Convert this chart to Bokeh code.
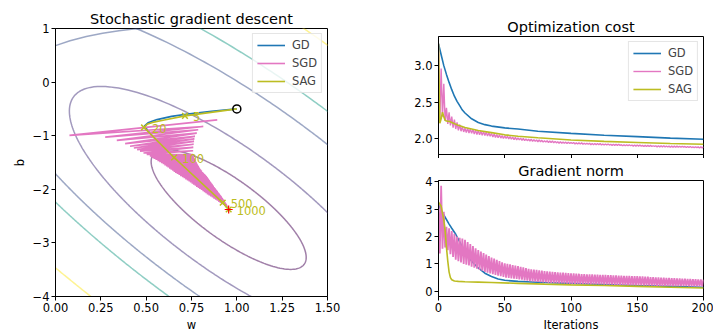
import numpy as np
from bokeh.plotting import figure
from bokeh.layouts import row, column
from bokeh.models import Range1d, FixedTicker, NumeralTickFormatter, CustomJSTickFormatter, ColumnDataSource
from bokeh.embed import file_html
from bokeh.resources import INLINE
from bokeh.core.properties import value

FONT = "DejaVu Sans"
C_GD = "#1f77b4"
C_SGD = "#e377c2"
C_SAG = "#bcbd22"

# ---------------- left panel data ----------------
cost_min_w = 0.955
cost_min_b = -2.377
hess_ww, hess_wb, hess_bb = 6.83, 2.09, 1.0
contour_levels = [0.45, 1.9, 5.0, 7.45, 14.9]
contour_shift_w = [0.0, 0.0, 0.05, 0.07, 0.08]
contour_shift_b = [0.0, 0.0, 0.15, 0.20, 0.25]
contour_colors = ["#440154", "#46337e", "#3b528b", "#1f9e89", "#fde725"]
# contour piece visible in the top-left corner
arc_w = [0.0, 0.08, 0.17, 0.26, 0.35, 0.43, 0.48]
arc_b = [0.68, 0.77, 0.85, 0.91, 0.96, 0.99, 1.0]

gd_path_w = [1.0, 0.86, 0.74, 0.64, 0.56, 0.51, 0.49, 0.52, 0.57, 0.62]
gd_path_b = [-0.5, -0.545, -0.59, -0.64, -0.70, -0.76, -0.82, -0.95, -1.13, -1.29]

# SGD zig-zag: right end and left end of each sweep
sgd_left_w = [0.077, 0.274, 0.338, 0.384, 0.411, 0.432, 0.450, 0.466, 0.485, 0.503,
              0.520, 0.530, 0.540, 0.551, 0.562, 0.572, 0.582, 0.591, 0.600, 0.609,
              0.617, 0.626, 0.634, 0.643, 0.651, 0.659, 0.668, 0.678, 0.687, 0.697,
              0.706, 0.715, 0.724, 0.733, 0.741, 0.750, 0.758, 0.767, 0.775, 0.784,
              0.792, 0.801, 0.810, 0.818, 0.826, 0.834, 0.843, 0.852, 0.861, 0.870,
              0.879, 0.888, 0.897, 0.905, 0.913, 0.922, 0.930, 0.938, 0.945, 0.951]
sgd_left_b = [-0.994, -1.026, -1.087, -1.148, -1.198, -1.230, -1.259, -1.288, -1.322, -1.352,
              -1.38, -1.40, -1.42, -1.44, -1.46, -1.48, -1.50, -1.52, -1.54, -1.56,
              -1.58, -1.60, -1.62, -1.64, -1.66, -1.68, -1.70, -1.72, -1.74, -1.76,
              -1.78, -1.80, -1.82, -1.84, -1.86, -1.88, -1.90, -1.92, -1.94, -1.96,
              -1.98, -2.00, -2.02, -2.04, -2.06, -2.08, -2.10, -2.12, -2.14, -2.16,
              -2.18, -2.20, -2.22, -2.24, -2.26, -2.28, -2.30, -2.32, -2.34, -2.36]
sgd_right_w = [0.892, 0.815, 0.787, 0.779, 0.769, 0.766, 0.764, 0.762, 0.760, 0.759,
               0.758, 0.760, 0.762, 0.764, 0.767, 0.770, 0.773, 0.776, 0.779, 0.782,
               0.785, 0.789, 0.792, 0.795, 0.799, 0.804, 0.809, 0.815, 0.820, 0.826,
               0.831, 0.836, 0.840, 0.844, 0.848, 0.852, 0.856, 0.860, 0.865, 0.869,
               0.874, 0.878, 0.883, 0.887, 0.892, 0.896, 0.900, 0.905, 0.909, 0.914,
               0.918, 0.922, 0.926, 0.930, 0.934, 0.938, 0.942, 0.945, 0.948, 0.951]
sgd_right_b = [-0.704, -0.828, -0.889, -0.952, -1.013, -1.060, -1.106, -1.160, -1.217, -1.280,
               -1.35, -1.37, -1.39, -1.41, -1.43, -1.45, -1.47, -1.49, -1.51, -1.53,
               -1.55, -1.57, -1.59, -1.61, -1.63, -1.65, -1.67, -1.69, -1.71, -1.73,
               -1.75, -1.77, -1.79, -1.81, -1.83, -1.85, -1.87, -1.89, -1.91, -1.93,
               -1.95, -1.97, -1.99, -2.01, -2.03, -2.05, -2.07, -2.09, -2.11, -2.13,
               -2.15, -2.17, -2.19, -2.21, -2.23, -2.25, -2.27, -2.29, -2.31, -2.33]

sag_path_w = [1.0, 0.714, 0.60, 0.535, 0.505, 0.488, 0.654, 0.922, 0.955]
sag_path_b = [-0.5, -0.63, -0.707, -0.752, -0.785, -0.846, -1.407, -2.25, -2.377]

sag_mark_w = [0.714, 0.488, 0.654, 0.922, 0.955]
sag_mark_b = [-0.63, -0.846, -1.407, -2.25, -2.377]
sag_mark_labels = ["5", "20", "100", "500", "1000"]

start_w = [1.0]
start_b = [-0.5]

# ---------------- right panels data ----------------
gd_cost_iter = [0, 2, 4, 6, 8, 10, 12, 14, 16, 18, 20, 25, 30, 35, 40, 50, 60, 75, 100, 125, 150, 175, 200]
gd_cost = [3.30, 3.15, 3.00, 2.88, 2.77, 2.67, 2.58, 2.51, 2.45, 2.39, 2.35, 2.27, 2.22, 2.19, 2.17,
           2.145, 2.13, 2.10, 2.07, 2.045, 2.025, 2.005, 1.99]

sag_cost_iter = [0, 1, 2, 3, 4, 5, 6, 8, 10, 15, 20, 25, 30, 40, 50, 60, 75, 100, 125, 150, 175, 200]
sag_cost = [3.30, 2.21, 2.27, 2.36, 2.30, 2.25, 2.24, 2.235, 2.22, 2.18, 2.15, 2.13, 2.11, 2.08, 2.05,
            2.03, 2.01, 1.98, 1.96, 1.945, 1.93, 1.92]

sgd_cost_head = [3.30, 2.27, 2.96, 2.30, 2.75, 2.24, 2.42, 2.20, 2.36, 2.18, 2.30, 2.15, 2.26, 2.13,
                 2.22, 2.11, 2.19, 2.10, 2.16, 2.09, 2.14]
sgd_cost_odd = [2.08, 2.075, 2.07, 2.06, 2.055, 2.05, 2.045, 2.04, 2.035, 2.03,
                2.02, 2.015, 2.01, 2.005, 2.00, 2.00, 1.995, 1.99, 1.985, 1.98,
                1.98, 1.975, 1.97, 1.97, 1.965, 1.96, 1.96, 1.955, 1.955, 1.95,
                1.95, 1.945, 1.945, 1.94, 1.94, 1.935, 1.935, 1.935, 1.93, 1.93,
                1.93, 1.925, 1.925, 1.925, 1.92, 1.92, 1.92, 1.915, 1.915, 1.915,
                1.915, 1.91, 1.91, 1.91, 1.91, 1.905, 1.905, 1.905, 1.905, 1.90,
                1.90, 1.90, 1.90, 1.895, 1.895, 1.895, 1.895, 1.89, 1.89, 1.89,
                1.89, 1.89, 1.885, 1.885, 1.885, 1.885, 1.885, 1.88, 1.88, 1.88,
                1.88, 1.88, 1.88, 1.875, 1.875, 1.875, 1.875, 1.875, 1.87, 1.87]
sgd_cost_even = [2.14, 2.13, 2.125, 2.115, 2.11, 2.10, 2.095, 2.085, 2.08, 2.07,
                 2.06, 2.055, 2.05, 2.04, 2.035, 2.03, 2.025, 2.02, 2.015, 2.01,
                 2.005, 2.0, 1.995, 1.99, 1.99, 1.985, 1.98, 1.98, 1.975, 1.97,
                 1.97, 1.965, 1.965, 1.96, 1.955, 1.955, 1.95, 1.95, 1.95, 1.945,
                 1.945, 1.94, 1.94, 1.94, 1.935, 1.935, 1.935, 1.93, 1.93, 1.93,
                 1.93, 1.925, 1.925, 1.925, 1.92, 1.92, 1.92, 1.92, 1.915, 1.915,
                 1.915, 1.915, 1.91, 1.91, 1.91, 1.91, 1.905, 1.905, 1.905, 1.905,
                 1.90, 1.90, 1.90, 1.90, 1.90, 1.895, 1.895, 1.895, 1.895, 1.895,
                 1.89, 1.89, 1.89, 1.89, 1.89, 1.885, 1.885, 1.885, 1.885, 1.885]

gd_gn_iter = [0, 2, 5, 8, 10, 13, 16, 20, 25, 30, 35, 40, 45, 50, 60, 70, 80, 100, 125, 150, 175, 200]
gd_gn = [3.15, 2.95, 2.70, 2.45, 2.30, 2.08, 1.80, 1.42, 1.10, 0.85, 0.66, 0.54, 0.45, 0.40, 0.36,
         0.34, 0.32, 0.29, 0.25, 0.21, 0.18, 0.15]

sag_gn_iter = [0, 2, 3, 4, 5, 6, 7, 8, 9, 10, 12, 15, 20, 30, 40, 60, 80, 100, 125, 150, 175, 200]
sag_gn = [3.25, 3.10, 2.85, 2.60, 2.20, 1.60, 1.10, 0.70, 0.50, 0.42, 0.375, 0.36, 0.35, 0.335, 0.32,
          0.29, 0.26, 0.235, 0.21, 0.18, 0.15, 0.12]

sgd_gn_even = [3.20, 3.85, 2.90, 2.35, 2.30, 2.20, 2.10, 2.00, 1.95, 1.92, 1.88,
               1.80, 1.72, 1.65, 1.57, 1.50, 1.45, 1.39, 1.34, 1.28, 1.23,
               1.19, 1.15, 1.10, 1.06, 1.02, 1.00, 0.98, 0.96, 0.94, 0.92,
               0.89, 0.87, 0.85, 0.82, 0.80, 0.79, 0.78, 0.76, 0.75, 0.74,
               0.73, 0.72, 0.71, 0.70, 0.69, 0.68, 0.68, 0.67, 0.66, 0.65,
               0.65, 0.64, 0.64, 0.63, 0.63, 0.62, 0.62, 0.62, 0.61, 0.61, 0.60, 0.60,
               0.60, 0.59, 0.59, 0.58, 0.58, 0.57, 0.57, 0.56, 0.56, 0.56, 0.55, 0.55, 0.55,
               0.54, 0.54, 0.53, 0.53, 0.52, 0.52, 0.51, 0.51, 0.50, 0.50, 0.49, 0.49,
               0.48, 0.48, 0.47, 0.47, 0.46, 0.46, 0.45, 0.45, 0.44, 0.44, 0.43, 0.43, 0.42]
sgd_gn_odd = [1.38, 1.55, 1.60, 1.50, 1.35, 1.25, 1.15, 1.10, 1.05, 1.00,
              0.97, 0.94, 0.90, 0.86, 0.82, 0.78, 0.75, 0.71, 0.68, 0.65,
              0.62, 0.60, 0.57, 0.55, 0.52, 0.50, 0.49, 0.47, 0.46, 0.45,
              0.43, 0.42, 0.40, 0.39, 0.37, 0.36, 0.35, 0.34, 0.33, 0.32,
              0.32, 0.31, 0.31, 0.30, 0.30, 0.29, 0.29, 0.28, 0.28, 0.27,
              0.27, 0.27, 0.27, 0.26, 0.26, 0.26, 0.26, 0.25, 0.25, 0.25, 0.25, 0.25, 0.24,
              0.24, 0.24, 0.24, 0.23, 0.23, 0.23, 0.23, 0.23, 0.22, 0.22, 0.22, 0.22,
              0.22, 0.22, 0.21, 0.21, 0.21, 0.21, 0.21, 0.20, 0.20, 0.20, 0.20, 0.20, 0.20,
              0.19, 0.19, 0.19, 0.19, 0.19, 0.19, 0.18, 0.18, 0.18, 0.18, 0.18, 0.18]

# ---------------- assemble series ----------------
sgd_path_w, sgd_path_b = [], []
for rw, rb, lw, lb in zip(sgd_right_w, sgd_right_b, sgd_left_w, sgd_left_b):
    sgd_path_w += [rw, lw]
    sgd_path_b += [rb, lb]
sgd_path_w.append(cost_min_w)
sgd_path_b.append(cost_min_b)

sgd_cost = list(sgd_cost_head)
for lo, hi in zip(sgd_cost_odd, sgd_cost_even):
    sgd_cost += [lo, hi]
sgd_gn = [sgd_gn_even[i // 2] if i % 2 == 0 else sgd_gn_odd[i // 2] for i in range(201)]
iters = list(range(201))


def style(p):
    p.xgrid.visible = False
    p.ygrid.visible = False
    p.outline_line_color = "black"
    p.outline_line_alpha = 1
    p.outline_line_width = 1
    p.background_fill_color = "white"
    p.border_fill_color = "white"
    for ax in p.axis:
        ax.axis_line_color = "black"
        ax.major_tick_line_color = "black"
        ax.major_tick_out = 4
        ax.major_tick_in = 0
        ax.minor_tick_line_color = None
        ax.major_label_text_font = FONT
        ax.major_label_text_font_size = "11.5px"
        ax.major_label_text_color = "black"
        ax.major_label_standoff = 2
        ax.axis_label_text_font = FONT
        ax.axis_label_text_font_size = "11.5px"
        ax.axis_label_text_font_style = "normal"
        ax.axis_label_text_color = "black"
        ax.axis_label_standoff = 3
    p.title.text_font = FONT
    p.title.text_font_size = "14.5px"
    p.title.text_font_style = "normal"
    p.title.text_color = "black"
    p.title.align = "center"
    p.title.standoff = 4


def style_legend(p):
    lg = p.legend[0]
    lg.location = "top_right"
    lg.margin = 5
    lg.padding = 4
    lg.spacing = 4
    lg.glyph_width = 28
    lg.glyph_height = 14
    lg.label_height = 14
    lg.label_standoff = 7
    lg.label_text_font = FONT
    lg.label_text_font_size = "11.5px"
    lg.border_line_color = "#cccccc"
    lg.border_line_width = 1
    lg.background_fill_alpha = 0.8


minus_fmt = CustomJSTickFormatter(code="return tick < 0 ? '\u2212' + String(-tick) : String(tick);")

# ---------------- left figure ----------------
p1 = figure(width=398, height=334, output_backend="svg", toolbar_location=None,
            x_range=Range1d(0, 1.5), y_range=Range1d(-4, 1),
            title="Stochastic gradient descent",
            min_border_left=55, min_border_right=71, min_border_top=28, min_border_bottom=36)

theta = np.linspace(0, 2 * np.pi, 721)
cxs, cys = [], []
for L, sw, sb in zip(contour_levels, contour_shift_w, contour_shift_b):
    c, s = np.cos(theta), np.sin(theta)
    q = hess_ww * c * c + 2 * hess_wb * c * s + hess_bb * s * s
    r = np.sqrt(L / q)
    cxs.append(list(cost_min_w + sw + r * c))
    cys.append(list(cost_min_b + sb + r * s))
p1.multi_line(xs="xs", ys="ys", line_color="color", line_alpha=0.5, line_width=1.5,
              source=ColumnDataSource(dict(xs=cxs, ys=cys, color=contour_colors)))
p1.line(arc_w, arc_b, line_color=contour_colors[2], line_alpha=0.5, line_width=1.5)

p1.line(gd_path_w, gd_path_b, line_color=C_GD, line_width=1.6, legend_label="GD")
p1.line(sgd_path_w, sgd_path_b, line_color=C_SGD, line_width=1.6, legend_label="SGD")
p1.line(sag_path_w, sag_path_b, line_color=C_SAG, line_width=1.6, legend_label="SAG")
p1.scatter(sag_mark_w, sag_mark_b, marker="x", size=8, line_color=C_SAG, line_width=1.5)
p1.text(sag_mark_w, sag_mark_b, text=sag_mark_labels, text_color=C_SAG,
        text_font=value(FONT), text_font_size=value("11.5px"),
        x_offset=8, y_offset=1, text_baseline="alphabetic", text_align="left")
p1.scatter(start_w, start_b, marker="circle", size=8, fill_color=None, line_color="black", line_width=1.5)
p1.scatter([cost_min_w], [cost_min_b], marker="cross", size=8, line_color="red", line_width=1.2)

p1.xaxis.axis_label = "w"
p1.yaxis.axis_label = "b"
p1.xaxis.ticker = FixedTicker(ticks=[0, 0.25, 0.5, 0.75, 1.0, 1.25, 1.5])
p1.xaxis.formatter = NumeralTickFormatter(format="0.00")
p1.yaxis.ticker = FixedTicker(ticks=[-4, -3, -2, -1, 0, 1])
p1.yaxis.formatter = minus_fmt
style(p1)
style_legend(p1)

# ---------------- right top figure ----------------
p2 = figure(width=315, height=158, output_backend="svg", toolbar_location=None,
            x_range=Range1d(0, 200), y_range=Range1d(1.78, 3.40),
            title="Optimization cost",
            min_border_left=40, min_border_right=10, min_border_top=36, min_border_bottom=3)
p2.line(gd_cost_iter, gd_cost, line_color=C_GD, line_width=1.6, legend_label="GD")
p2.line(iters, sgd_cost, line_color=C_SGD, line_width=1.4, legend_label="SGD")
p2.line(sag_cost_iter, sag_cost, line_color=C_SAG, line_width=1.6, legend_label="SAG")
p2.xaxis.ticker = FixedTicker(ticks=[0, 50, 100, 150, 200])
p2.xaxis.formatter = CustomJSTickFormatter(code="return '';")
p2.yaxis.ticker = FixedTicker(ticks=[2.0, 2.5, 3.0])
p2.yaxis.formatter = NumeralTickFormatter(format="0.0")
style(p2)
p2.xaxis.major_label_standoff = 0
style_legend(p2)

# ---------------- right bottom figure ----------------
p3 = figure(width=315, height=176, output_backend="svg", toolbar_location=None,
            x_range=Range1d(0, 200), y_range=Range1d(-0.19, 4.04),
            title="Gradient norm",
            min_border_left=40, min_border_right=10, min_border_top=22, min_border_bottom=35)
p3.line(gd_gn_iter, gd_gn, line_color=C_GD, line_width=1.6)
p3.line(iters, sgd_gn, line_color=C_SGD, line_width=1.8)
p3.line(sag_gn_iter, sag_gn, line_color=C_SAG, line_width=1.6)
p3.xaxis.ticker = FixedTicker(ticks=[0, 50, 100, 150, 200])
p3.yaxis.ticker = FixedTicker(ticks=[0, 1, 2, 3, 4])
p3.xaxis.axis_label = "Iterations"
style(p3)

layout = row(p1, column(p2, p3))
with open("out.html", "w", encoding="utf-8") as f:
    f.write(file_html(layout, INLINE))
